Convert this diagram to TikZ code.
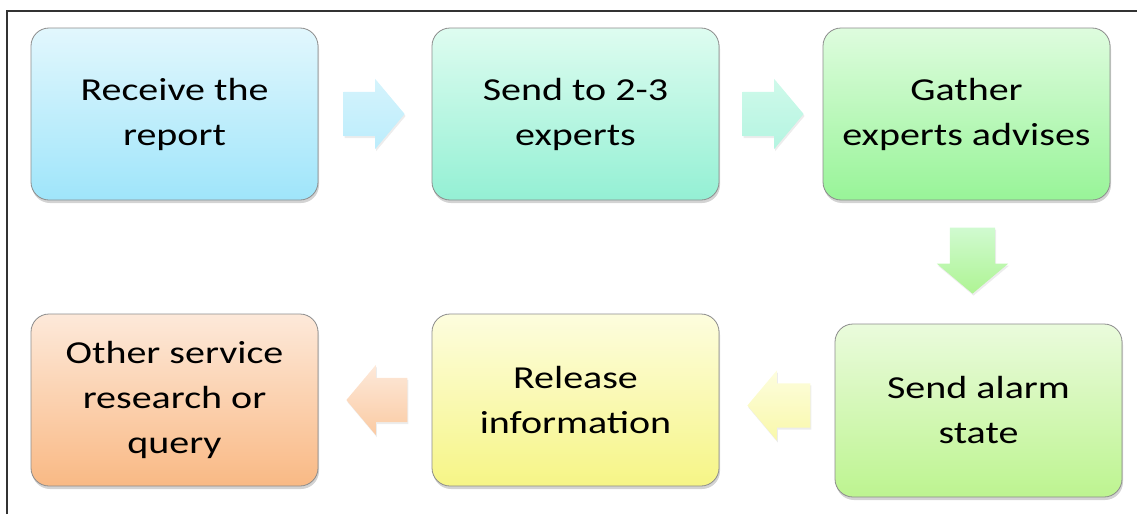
\documentclass[tikz,border=0pt]{standalone}
\usepackage{fontspec}
\setmainfont[FakeStretch=1.25]{Carlito}
\usetikzlibrary{shapes.arrows,shadows,calc}
\definecolor{bluetop}{HTML}{E2F7FD}\definecolor{bluebot}{HTML}{9FE5FA}
\definecolor{aquatop}{HTML}{DEFCF0}\definecolor{aquabot}{HTML}{94F0D4}
\definecolor{greentop}{HTML}{DEFCDE}\definecolor{greenbot}{HTML}{98F498}
\definecolor{limetop}{HTML}{EAFBDC}\definecolor{limebot}{HTML}{BDF490}
\definecolor{yeltop}{HTML}{FDFDDE}\definecolor{yelbot}{HTML}{F6F586}
\definecolor{orgtop}{HTML}{FDE9DA}\definecolor{orgbot}{HTML}{F9B984}
\tikzset{
  stepbox/.style={draw=black!45, line width=0.8pt, rounded corners=18pt,
    minimum width=287pt, minimum height=172pt, align=center,
    font=\fontsize{32}{45}\selectfont,
    drop shadow={opacity=0.35, shadow xshift=1pt, shadow yshift=-3pt}},
  flowarrow/.style={single arrow, anchor=tail, minimum height=61pt, inner xsep=0pt,
    inner ysep=22pt, single arrow head extend=13pt, single arrow tip angle=100,
    drop shadow={opacity=0.15, shadow xshift=1pt, shadow yshift=-2pt}}
}
\begin{document}
\begin{tikzpicture}[x=1pt, y=-1pt]
            \useasboundingbox (0,0) rectangle (1137,514);
            \draw [line width=1.3pt, black!80] (7,514) -- (7,11) -- (1137,11);
            % top row
            \node[stepbox, top color=bluetop, bottom color=bluebot] (b1) at (174.5,114) {Receive the\\report};
            \node[stepbox, top color=aquatop, bottom color=aquabot] (b2) at (575.5,114) {Send to 2-3\\experts};
            \node[stepbox, top color=greentop, bottom color=greenbot] (b3) at (966.5,114) {Gather\\experts advises};
            % bottom row
            \node[stepbox, top color=limetop, bottom color=limebot, minimum height=173pt] (b4) at (978.5,410.5) {Send alarm\\state};
            \node[stepbox, top color=yeltop, bottom color=yelbot] (b5) at (575.5,400) {Release\\information};
            \node[stepbox, top color=orgtop, bottom color=orgbot] (b6) at (174.5,400) {Other service\\research or\\query};
            % arrows
            \node[flowarrow, top color=bluetop!80!bluebot, bottom color=bluebot!70!white] (a1) at ($(b1.east)+(25,0)$) {};
            \node[flowarrow, top color=aquatop!80!aquabot, bottom color=aquabot!70!white] (a2) at ($(b2.east)+(23,0)$) {};
            \node[flowarrow, shape border rotate=270, inner xsep=22.5pt, inner ysep=0pt, minimum height=66pt, top color=greentop!80!greenbot, bottom color=limebot!60!greenbot] (a3) at ($(b3.south)+(6,27)$) {};
            \node[flowarrow, shape border rotate=180, minimum height=63pt, top color=yeltop, bottom color=yelbot!70!white] (a4) at ($(b4.west)+(-24,-5)$) {};
            \node[flowarrow, shape border rotate=180, top color=orgtop, bottom color=orgbot!75!white] (a5) at ($(b5.west)+(-24,0)$) {};
        \end{tikzpicture}
\end{document}
